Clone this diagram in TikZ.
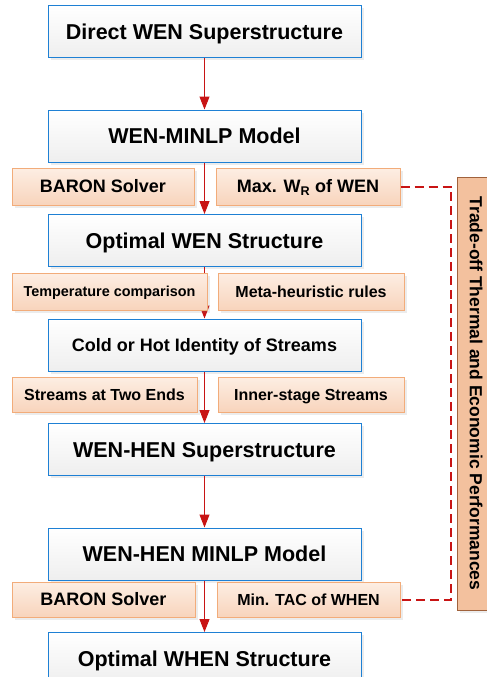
\documentclass[tikz,border=0pt]{standalone}
\usepackage{fontspec}
\setmainfont{Liberation Sans}
\usetikzlibrary{arrows.meta, positioning, calc, shadows}

\definecolor{boxblue}{RGB}{30,128,212}
\definecolor{sideedge}{RGB}{242,172,122}
\definecolor{sidetop}{RGB}{253,238,227}
\definecolor{sidebot}{RGB}{248,212,188}
\definecolor{tradefill}{RGB}{243,193,158}
\definecolor{tradeedge}{RGB}{160,98,60}
\definecolor{flowred}{RGB}{200,20,20}

\begin{document}
\begin{tikzpicture}[x=1pt, y=1pt, node distance=51.5pt, thick]
    \tikzstyle{mainbox} = [rectangle, draw=boxblue, line width=1pt, top color=white, bottom color=gray!13, minimum width=313pt, minimum height=52pt, inner sep=0pt, text height=15.4pt, text depth=0pt, font=\fontsize{21.5}{24}\selectfont\bfseries, drop shadow={shadow xshift=2.5pt, shadow yshift=-2.5pt, opacity=0.15}]
    \tikzstyle{sidebox} = [rectangle, draw=sideedge, line width=1pt, top color=sidetop, bottom color=sidebot, minimum height=37pt, inner sep=0pt, text height=12.9pt, text depth=0pt, font=\fontsize{18}{20}\selectfont\bfseries, drop shadow={shadow xshift=2.5pt, shadow yshift=-2.5pt, opacity=0.15}]
    \tikzstyle{smallside} = [sidebox, text height=11.5pt, font=\fontsize{16}{18}\selectfont\bfseries]
    \tikzstyle{flow} = [draw=flowred, line width=1pt, -{Triangle[length=13pt, width=10pt]}]
    \tikzstyle{tradelink} = [color=flowred, line width=2pt, line cap=butt, dash pattern=on 9pt off 5pt]

    \useasboundingbox (0,0) rectangle (487,-677);

    % Main column
    \node [mainbox] (direct) at (204.5,-31.5) {Direct WEN Superstructure};
    \node [mainbox, below=of direct] (wmodel) {WEN-MINLP Model};
    \node [mainbox, below=of wmodel] (wopt) {Optimal WEN Structure};
    \node [mainbox, below=of wopt, text height=12.9pt, font=\fontsize{18}{20}\selectfont\bfseries] (identity) {Cold or Hot Identity of Streams};
    \node [mainbox, below=of identity] (whsuper) {WEN-HEN Superstructure};
    \node [mainbox, below=of whsuper] (whmodel) {WEN-HEN MINLP Model};
    \node [mainbox, below=of whmodel] (whopt) {Optimal WHEN Structure};

    % Connections
    \path [flow] (direct) -- (wmodel);
    \path [flow] (wmodel) -- (wopt);
    \path [flow] (wopt) -- (identity);
    \path [flow] (identity) -- (whsuper);
    \path [flow] (whsuper) -- (whmodel);
    \path [flow] (whmodel) -- (whopt);

    % Side notes
    \node [sidebox, minimum width=182pt] (solverA) at (103,-186.5) {BARON Solver};
    \node [sidebox, minimum width=184pt] (maxwr) at (308,-186.5) {Max. W\textsubscript{R} of WEN};
    \node [sidebox, minimum width=195pt, text height=10.3pt, font=\fontsize{14.4}{16}\selectfont\bfseries] (tempcmp) at (109.5,-291.5) {Temperature comparison};
    \node [smallside, minimum width=186pt] (metarule) at (311,-291.5) {Meta-heuristic rules};
    \node [smallside, minimum width=185pt, minimum height=35pt] (twoends) at (104.5,-394.5) {Streams at Two Ends};
    \node [smallside, minimum width=186pt, minimum height=35pt] (innerst) at (311,-394.5) {Inner-stage Streams};
    \node [sidebox, minimum width=183pt, minimum height=35pt] (solverB) at (103.5,-599.5) {BARON Solver};
    \node [smallside, minimum width=183pt, minimum height=35pt] (mintac) at (308.5,-599.5) {Min. TAC of WHEN};

    % Trade-off link
    \coordinate (bend) at (451,0);
    \draw [tradelink] (maxwr.east) -- (maxwr.east -| bend) -- (mintac.east -| bend) -- (mintac.east);

    % Trade-off bar
    \node [rectangle, rotate=-90, draw=tradeedge, line width=1pt, fill=tradefill, minimum width=433pt, minimum height=38pt, inner sep=0pt, text height=12.5pt, text depth=0pt, font=\fontsize{17.5}{20}\selectfont\bfseries, drop shadow={shadow xshift=2.5pt, shadow yshift=-2.5pt, opacity=0.15}] (tradeoff) at (476,-393.5) {Trade-off Thermal and Economic Performances};
\end{tikzpicture}
\end{document}
